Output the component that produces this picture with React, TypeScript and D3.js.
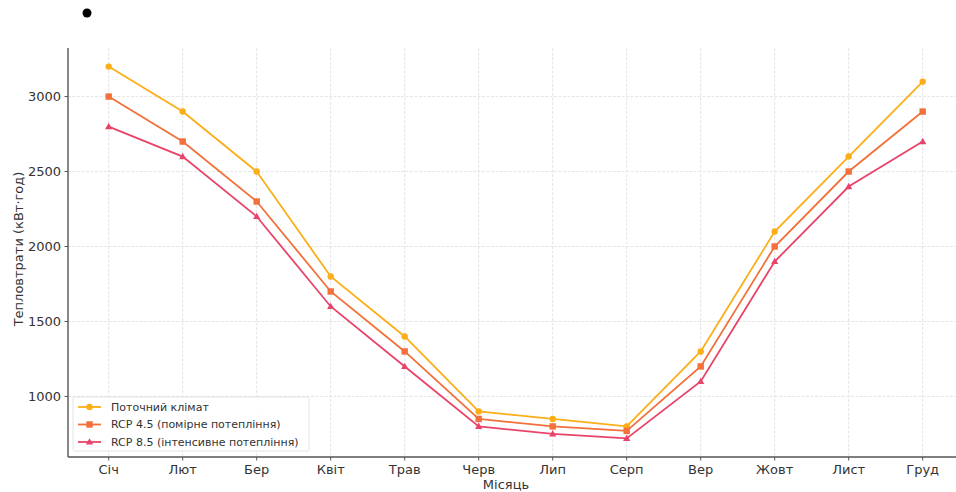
import React from "react";
import * as d3 from "d3";

const months = ["Січ", "Лют", "Бер", "Квіт", "Трав", "Черв", "Лип", "Серп", "Вер", "Жовт", "Лист", "Груд"];
const current = [3200, 2900, 2500, 1800, 1400, 900, 850, 800, 1300, 2100, 2600, 3100];
const rcp45 = [3000, 2700, 2300, 1700, 1300, 850, 800, 770, 1200, 2000, 2500, 2900];
const rcp85 = [2800, 2600, 2200, 1600, 1200, 800, 750, 720, 1100, 1900, 2400, 2700];
const yTicks = [1000, 1500, 2000, 2500, 3000];
const seriesNames = ["Поточний клімат", "RCP 4.5 (помірне потепління)", "RCP 8.5 (інтенсивне потепління)"];

const W = 956, H = 492;
const left = 68, bottom = 457, top = 48;

export default function App() {
  const x = d3.scaleLinear().domain([-0.55, 11.55]).range([left, left + 74 * 12.1]);
  const all = [...current, ...rcp45, ...rcp85];
  const mn = d3.min(all)!, mx = d3.max(all)!;
  const pad = (mx - mn) * 0.05;
  const y = d3.scaleLinear().domain([mn - pad, mx + pad]).range([bottom, top]);
  const line = d3.line<number>().x((_, i) => x(i)).y((d) => y(d));
  const series = [
    { name: seriesNames[0], data: current, color: "#FBAE17", marker: "circle" },
    { name: seriesNames[1], data: rcp45, color: "#F2703A", marker: "square" },
    { name: seriesNames[2], data: rcp85, color: "#E9436A", marker: "triangle" },
  ];
  const marker = (m: string, cx: number, cy: number, color: string, key: any) => {
    if (m === "circle") return <circle key={key} cx={cx} cy={cy} r={3.2} fill={color} />;
    if (m === "square") return <rect key={key} x={cx - 3.2} y={cy - 3.2} width={6.4} height={6.4} fill={color} />;
    return <path key={key} d={`M${cx},${cy - 3.8}L${cx + 3.6},${cy + 2.6}L${cx - 3.6},${cy + 2.6}Z`} fill={color} />;
  };
  const font = "DejaVu Sans, sans-serif";
  return (
    <svg width={W} height={H} style={{ position: "absolute", left: 0, top: 0, background: "#fff" }} fontFamily={font}>
      <circle cx={87} cy={13} r={4.5} fill="#000" />
      {/* grid */}
      {yTicks.map((t) => (
        <line key={"gy" + t} x1={left} x2={W} y1={y(t)} y2={y(t)} stroke="#e2e2e2" strokeWidth={0.9} strokeDasharray="3,1.5" />
      ))}
      {months.map((m, i) => (
        <line key={"gx" + i} x1={x(i)} x2={x(i)} y1={top} y2={bottom} stroke="#e2e2e2" strokeWidth={0.9} strokeDasharray="3,1.5" />
      ))}
      {/* series */}
      {series.map((s) => (
        <g key={s.name}>
          <path d={line(s.data)!} fill="none" stroke={s.color} strokeWidth={1.8} />
          {s.data.map((d, i) => marker(s.marker, x(i), y(d), s.color, i))}
        </g>
      ))}
      {/* spines */}
      <line x1={left} x2={left} y1={top} y2={bottom} stroke="#555" strokeWidth={1.4} />
      <line x1={left} x2={W} y1={bottom} y2={bottom} stroke="#555" strokeWidth={1.4} />
      {/* ticks */}
      {yTicks.map((t) => (
        <g key={"ty" + t}>
          <line x1={left - 3.5} x2={left} y1={y(t)} y2={y(t)} stroke="#555" strokeWidth={1} />
          <text x={left - 7} y={y(t)} dy="0.35em" textAnchor="end" fontSize={13} fill="#333">{t}</text>
        </g>
      ))}
      {months.map((m, i) => (
        <g key={"tx" + i}>
          <line x1={x(i)} x2={x(i)} y1={bottom} y2={bottom + 3.5} stroke="#555" strokeWidth={1} />
          <text x={x(i)} y={bottom + 17} textAnchor="middle" fontSize={13} fill="#333">{m}</text>
        </g>
      ))}
      <text x={506} y={489} textAnchor="middle" fontSize={13} fill="#333">Місяць</text>
      <text transform={`translate(23,249) rotate(-90)`} textAnchor="middle" fontSize={13} fill="#333">Тепловтрати (кВт·год)</text>
      {/* legend */}
      <rect x={73} y={397} width={236} height={54} rx={2} fill="#fff" fillOpacity={0.85} stroke="#ddd" strokeWidth={0.8} />
      {series.map((s, i) => {
        const ly = 407 + i * 17.5;
        return (
          <g key={"lg" + i}>
            <line x1={78} x2={101} y1={ly} y2={ly} stroke={s.color} strokeWidth={1.8} />
            {marker(s.marker, 89.5, ly, s.color, "m")}
            <text x={111} y={ly} dy="0.35em" fontSize={11} fill="#333">{s.name}</text>
          </g>
        );
      })}
    </svg>
  );
}
